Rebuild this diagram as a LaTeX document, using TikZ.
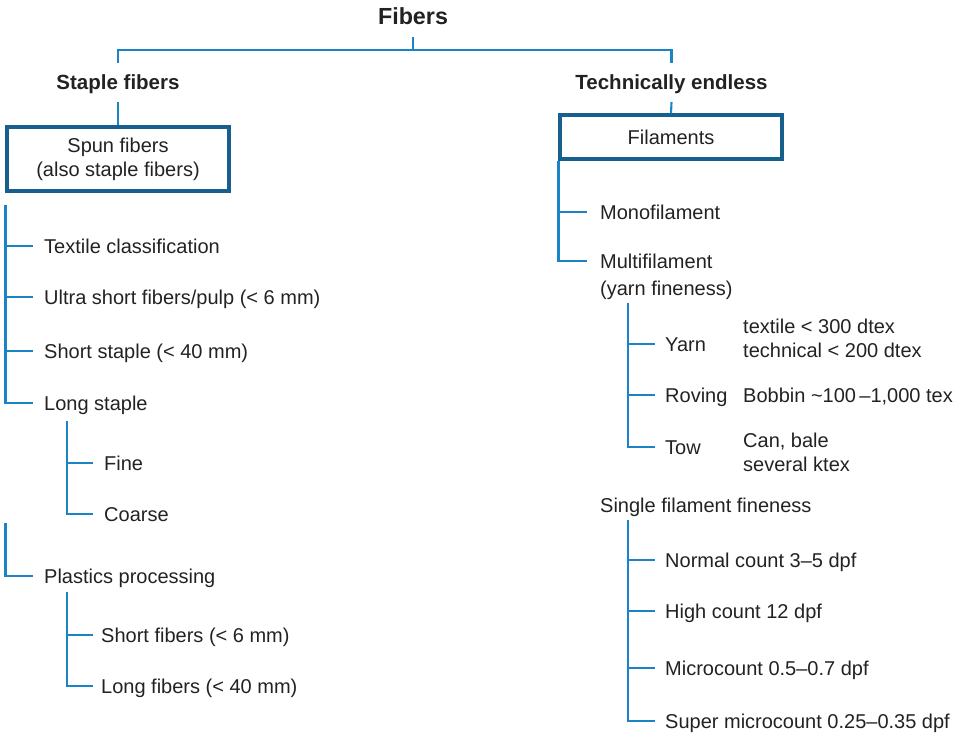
\documentclass[tikz,border=0pt]{standalone}
\usepackage{fontspec}
\setmainfont{Liberation Sans}
\usetikzlibrary{calc}
\definecolor{lnblue}{HTML}{1A84C6}
\definecolor{boxblue}{HTML}{17608E}
\definecolor{txt}{HTML}{222222}
\begin{document}
\begin{tikzpicture}[x=1pt,y=-1pt,
  ln/.style={draw=lnblue,line width=2.1pt},
  lbl/.style={anchor=base west,inner sep=0pt,font=\fontsize{20}{24}\selectfont,text=txt},
  mlbl/.style={anchor=north west,inner sep=0pt,align=left,font=\fontsize{20}{24}\selectfont,text=txt},
  head/.style={anchor=base,inner sep=0pt,font=\fontsize{20.5}{24}\selectfont\bfseries,text=txt},
  bx/.style={draw=boxblue,line width=3.1pt,inner sep=0pt,align=center,font=\fontsize{20}{24}\selectfont,text=txt}]
\useasboundingbox (0,0) rectangle (957,733);

% headings and boxes
\node[head,font=\fontsize{23.3}{28}\selectfont\bfseries] (fib) at (413,25) {Fibers};
\node[head] (stap) at (118,90) {Staple fibers};
\node[head] (tech) at (671.5,90) {Technically endless};
\node[bx,minimum width=222pt,minimum height=64pt] (spun) at (118,159) {Spun fibers\\(also staple fibers)};
\node[bx,minimum width=222pt,minimum height=44pt] (fil) at (671,137) {Filaments};

\coordinate (fj) at ([yshift=-25pt]fib.base);
\draw[ln] ([yshift=-12pt]fib.base) -- (fj);
\draw[ln] ([yshift=27pt]stap.base) |- (fj) -| ([yshift=27pt]tech.base);
\draw[ln] ([yshift=-12pt]stap.base) -- (spun.north);
\draw[ln] ([yshift=-12pt]tech.base) -- (fil.north);

% left branch
\node[lbl] (tc) at (44,253) {Textile classification};
\node[lbl] (us) at (44,304) {Ultra short fibers/pulp (< 6 mm)};
\node[lbl] (ss) at (44,358) {Short staple (< 40 mm)};
\node[lbl] (ls) at (44,410) {Long staple};
\node[lbl] (fi) at (104,470) {Fine};
\node[lbl] (co) at (104,521) {Coarse};
\node[lbl] (pp) at (44,583) {Plastics processing};
\node[lbl] (sf6) at (101,642) {Short fibers (< 6 mm)};
\node[lbl] (lf40) at (101,693) {Long fibers (< 40 mm)};

\coordinate (lt) at ([yshift=-12pt]spun.south west);
\foreach \n in {tc,us,ss,ls,pp} \coordinate (\n T) at ([shift={(-11pt,7pt)}]\n.base west);
\foreach \n in {fi,co} \coordinate (\n T) at ([shift={(-11pt,7pt)}]\n.base west);
\foreach \n in {sf6,lf40} \coordinate (\n T) at ([shift={(-8pt,7pt)}]\n.base west);
\draw[ln] (lt) |- (lsT);
\foreach \n in {tc,us,ss} \draw[ln] (lt |- \n T) -- (\n T);
\coordinate (lst) at ([shift={(23pt,-11pt)}]ls.base west);
\draw[ln] (lst) |- (coT);
\draw[ln] (lst |- fiT) -- (fiT);
\coordinate (lt2) at ($(lt |- co.base)+(0,2)$);
\draw[ln] (lt2) |- (ppT);
\coordinate (ppt) at ([shift={(23pt,-9pt)}]pp.base west);
\draw[ln] (ppt) |- (lf40T);
\draw[ln] (ppt |- sf6T) -- (sf6T);

% right branch
\node[lbl] (mono) at (600,219) {Monofilament};
\node[mlbl] (mf) at (600,253.5) {Multifilament\\[3pt](yarn fineness)};
\node[lbl] (yarn) at (665,351) {Yarn};
\node[lbl] (rov) at (665,402) {Roving};
\node[lbl] (tow) at (665,454) {Tow};
\node[mlbl] (yarnd) at (743,318.5) {textile < 300 dtex\\technical < 200 dtex};
\node[lbl] (rovd) at (743,402) {Bobbin \textasciitilde100\,–1,000 tex};
\node[mlbl] (towd) at (743,432.5) {Can, bale\\several ktex};
\node[lbl] (sff) at (600,512) {Single filament fineness};
\node[lbl] (nc) at (665,567) {Normal count 3–5 dpf};
\node[lbl] (hc) at (665,618) {High count 12 dpf};
\node[lbl] (mc) at (665,675) {Microcount 0.5–0.7 dpf};
\node[lbl] (smc) at (665,728) {Super microcount 0.25–0.35 dpf};

\coordinate (rt) at (fil.south west);
\coordinate (monoT) at ([shift={(-13pt,7pt)}]mono.base west);
\coordinate (mfT) at ($(mf.north west)+(-13,7.5)$);
\draw[ln] (rt) |- (mfT);
\draw[ln] (rt |- monoT) -- (monoT);
\coordinate (mft) at ($(mf.north west)+(28,49.5)$);
\foreach \n in {yarn,rov,tow,nc,hc,mc,smc} \coordinate (\n T) at ([shift={(-10pt,7pt)}]\n.base west);
\draw[ln] (mft) |- (towT);
\foreach \n in {yarn,rov} \draw[ln] (mft |- \n T) -- (\n T);
\coordinate (sft) at ([shift={(28pt,-8pt)}]sff.base west);
\draw[ln] (sft) |- (smcT);
\foreach \n in {nc,hc,mc} \draw[ln] (sft |- \n T) -- (\n T);
\end{tikzpicture}
\end{document}
